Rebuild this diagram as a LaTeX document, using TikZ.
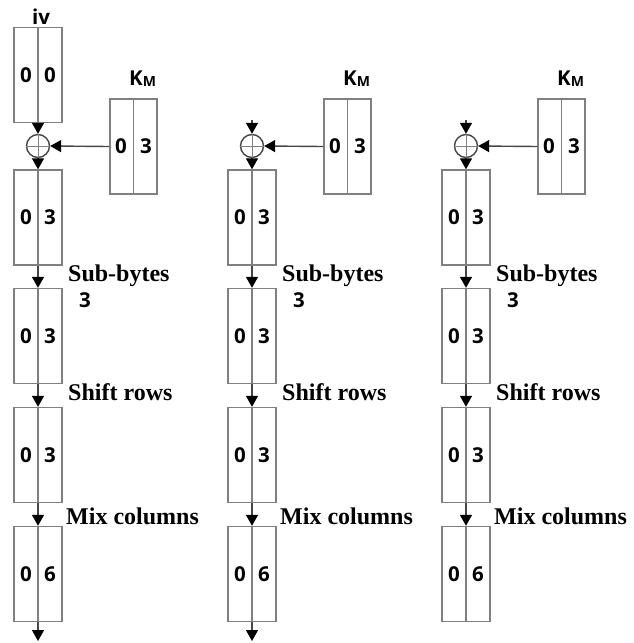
\documentclass[tikz,border=0pt]{standalone}
\usepackage{fontspec}
\setmainfont{Liberation Serif}
\setsansfont{Open Sans}
\usetikzlibrary{arrows.meta}
\definecolor{boxgray}{RGB}{128,128,128}
\definecolor{flowgray}{RGB}{70,70,70}
\tikzset{
  cell/.style={draw=boxgray, line width=1.4pt, minimum width=48pt, minimum height=95pt, inner sep=0pt},
  keycell/.style={draw=boxgray, line width=1.4pt, minimum width=47pt, minimum height=95pt, inner sep=0pt},
  divider/.style={draw=boxgray, line width=1.4pt},
  digit/.style={font=\sffamily\bfseries\fontsize{20.5}{20.5}\selectfont, inner sep=0pt},
  oplabel/.style={font=\bfseries\fontsize{24}{24}\selectfont, inner sep=0pt, anchor=base west},
  flow/.style={draw=flowgray, line width=1.4pt, -{Triangle[width=12pt,length=11pt,color=black]}},
  xorop/.style={circle, draw=flowgray, line width=1.4pt, minimum size=23pt, inner sep=0pt},
  xorcross/.style={draw=boxgray, line width=1pt}
}
\begin{document}
\begin{tikzpicture}[x=1pt,y=-1pt]
\useasboundingbox (0,0) rectangle (634,643);
% initial vector
\node[cell] (iv) at (38,75) {};
\draw[divider] (iv.north) -- (iv.south);
\node[digit] (iv0) at (26,75) {0};
\node[digit] (iv1) at (50,75) {0};
\node[digit, anchor=base] (ivlab) at (41,24) {iv};
\foreach \c in {0,1,2}{
  \pgfmathsetmacro{\xc}{38+214*\c}
  % xor
  \node[xorop] (x\c) at (\xc,146) {};
  \draw[xorcross] (x\c.north) -- (x\c.south) (x\c.west) -- (x\c.east);
  % key
  \node[keycell] (k\c) at (\xc+95.5,146.5) {};
  \draw[divider] (k\c.north) -- (k\c.south);
  \node[digit] (k\c l) at (\xc+83,146) {0};
  \node[digit] (k\c r) at (\xc+108,146) {3};
  \node[digit, anchor=base west] (kl\c) at (\xc+91,85) {K\raisebox{-1.5pt}{\fontsize{14}{14}\selectfont M}};
  \draw[flow] (k\c.west) -- (x\c.east);
  % state boxes
  \node[cell] (a\c) at (\xc,217.5) {};
  \node[cell] (b\c) at (\xc,336) {};
  \node[cell] (d\c) at (\xc,455) {};
  \node[cell] (e\c) at (\xc,574) {};
  \foreach \n in {a,b,d,e}{\draw[divider] (\n\c.north) -- (\n\c.south);}
  \node[digit] (a\c l) at (\xc-12,217.5) {0};
  \node[digit] (a\c r) at (\xc+12,217.5) {3};
  \node[digit] (b\c l) at (\xc-12,336) {0};
  \node[digit] (b\c r) at (\xc+12,336) {3};
  \node[digit] (d\c l) at (\xc-12,455) {0};
  \node[digit] (d\c r) at (\xc+12,455) {3};
  \node[digit] (e\c l) at (\xc-12,574) {0};
  \node[digit] (e\c r) at (\xc+12,574) {6};
  % flow arrows
  \draw[flow] (x\c.south) -- (a\c.north);
  \draw[flow] (a\c.south) -- (b\c.north);
  \draw[flow] (b\c.south) -- (d\c.north);
  \draw[flow] (d\c.south) -- (e\c.north);
  % labels
  \node[oplabel] (sb\c) at (\xc+30,281) {Sub-bytes};
  \node[digit] (sbn\c) at (\xc+47,300) {3};
  \node[oplabel] (sr\c) at (\xc+30,400.5) {Shift rows};
  \node[oplabel] (mc\c) at (\xc+28,524) {Mix columns};
}
\draw[flow] (iv.south) -- (x0.north);
\coordinate (t1) at (252,120);
\coordinate (t2) at (466,120);
\draw[flow] (t1) -- (x1.north);
\draw[flow] (t2) -- (x2.north);
\coordinate (o0) at (38,641);
\coordinate (o1) at (252,641);
\draw[flow] (e0.south) -- (o0);
\draw[flow] (e1.south) -- (o1);
\end{tikzpicture}
\end{document}
